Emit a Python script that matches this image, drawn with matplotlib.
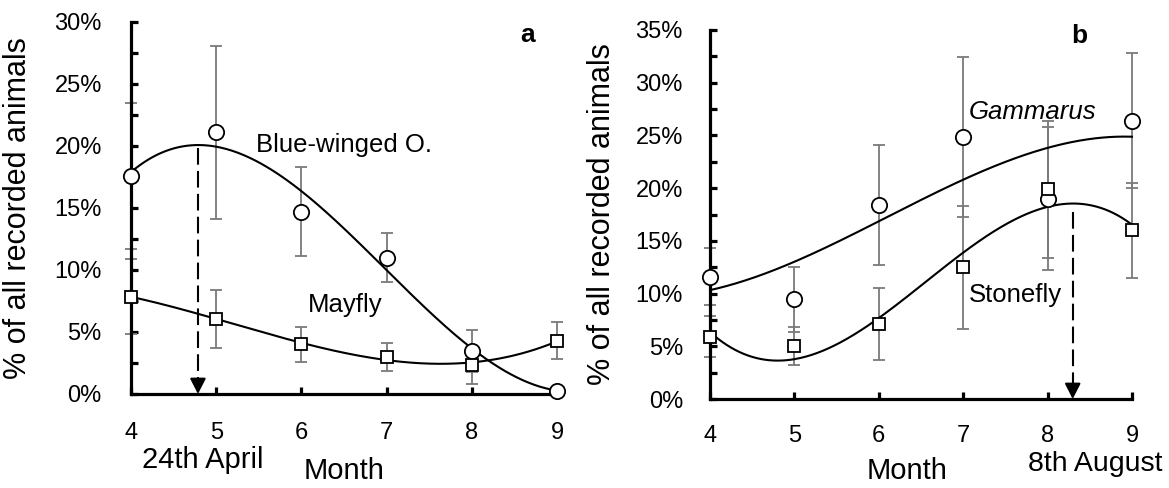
import numpy as np
import matplotlib
matplotlib.use("Agg")
import matplotlib.pyplot as plt
from matplotlib.ticker import MultipleLocator, PercentFormatter

plt.rcParams['font.family'] = ['Liberation Sans', 'DejaVu Sans']

months = [4, 5, 6, 7, 8, 9]

# panel a: Blue-winged Olive and Mayfly (% of all recorded animals)
bwo = [17.6, 21.1, 14.7, 11.0, 3.5, 0.25]
bwo_err = [5.9, 6.95, 3.6, 2.0, 1.7, 0.0]
mayfly = [7.85, 6.05, 4.0, 3.0, 2.35, 4.3]
mayfly_err = [3.0, 2.3, 1.4, 1.15, 1.55, 1.5]

# panel b: Gammarus and Stonefly
gammarus = [11.6, 9.45, 18.4, 24.85, 19.0, 26.4]
gammarus_err = [2.7, 3.1, 5.7, 7.55, 6.8, 6.4]
stonefly = [5.9, 5.05, 7.1, 12.5, 19.9, 16.0]
stonefly_err = [1.95, 1.8, 3.4, 5.85, 6.5, 4.5]

ERR_COLOR = '#7a7a7a'
TICK_FS = 17
NOTE_FS = 18.5
BIG_FS = 21


def trend(ax, y):
    # 3rd order polynomial trendline, like the spreadsheet one
    coef = np.polyfit(months, y, 3)
    xs = np.linspace(4, 9, 300)
    ys = np.polyval(coef, xs)
    ax.plot(xs, ys, color='black', lw=1.5, zorder=3, clip_on=False)
    return xs, ys


def series(ax, y, err, marker, ms):
    ax.errorbar(months, y, yerr=err, fmt='none', ecolor=ERR_COLOR, elinewidth=1.3,
                capsize=4, capthick=1.3, zorder=2, clip_on=False)
    ax.plot(months, y, linestyle='none', marker=marker, ms=ms, mfc='white', mec='black',
            mew=1.3, zorder=4, clip_on=False)


def style_axes(ax, ymax, ypad, xpad):
    ax.set_xlim(4, 9)
    ax.set_ylim(0, ymax)
    for s in ['top', 'right']:
        ax.spines[s].set_visible(False)
    for s in ['left', 'bottom']:
        ax.spines[s].set_linewidth(2.3)
    ax.yaxis.set_major_locator(MultipleLocator(5))
    ax.yaxis.set_minor_locator(MultipleLocator(2.5))
    ax.yaxis.set_major_formatter(PercentFormatter(decimals=0))
    ax.set_xticks(months)
    ax.tick_params(axis='both', which='both', direction='in', length=5, width=2.3,
                   labelsize=TICK_FS)
    ax.tick_params(axis='y', pad=ypad)
    ax.tick_params(axis='x', pad=xpad)
    ax.set_ylabel('% of all recorded animals', fontsize=22)


def peak_arrow(ax, xs, ys, ystart):
    xp = xs[np.argmax(ys)]
    ax.plot([xp, xp], [ystart, 1.2], color='black', lw=1.5, dashes=(8, 3), zorder=3)
    ax.annotate('', xy=(xp, 0), xytext=(xp, 1.3),
                arrowprops=dict(arrowstyle='-|>,head_length=0.47,head_width=0.24',
                                mutation_scale=20, color='black', lw=1.5,
                                shrinkA=0, shrinkB=0),
                zorder=5, annotation_clip=False)


fig = plt.figure(figsize=(11.69, 4.88), dpi=100)
ax1 = fig.add_axes([131 / 1169, 1 - 394 / 488, 426 / 1169, 372 / 488])
ax2 = fig.add_axes([710 / 1169, 1 - 399 / 488, 422 / 1169, 369 / 488])

# panel a
style_axes(ax1, 30, 21, 20.5)
xs, ys = trend(ax1, bwo)
peak_arrow(ax1, xs, ys, ys.max() - 0.2)
trend(ax1, mayfly)
series(ax1, bwo, bwo_err, 'o', 11)
series(ax1, mayfly, mayfly_err, 's', 9)
ax1.text(5.47, 19.5, 'Blue-winged O.', fontsize=NOTE_FS, va='baseline')
ax1.text(6.08, 6.6, 'Mayfly', fontsize=NOTE_FS, va='baseline')
ax1.text(8.57, 28.4, 'a', fontsize=19, fontweight='bold', va='baseline')
ax1.yaxis.set_label_coords(-0.23, 0.5)

# panel b
style_axes(ax2, 35, 19.5, 19)
trend(ax2, gammarus)
xs, ys = trend(ax2, stonefly)
peak_arrow(ax2, xs, ys, 17.7)
series(ax2, gammarus, gammarus_err, 'o', 11)
series(ax2, stonefly, stonefly_err, 's', 9)
ax2.text(7.07, 26.6, 'Gammarus', fontsize=NOTE_FS, fontstyle='italic', va='baseline')
ax2.text(7.07, 9.2, 'Stonefly', fontsize=NOTE_FS, va='baseline')
ax2.text(8.28, 33.8, 'b', fontsize=19, fontweight='bold', va='baseline')
ax2.yaxis.set_label_coords(-0.22, 0.5)

fig.text(142 / 1169, 1 - 468 / 488, '24th April', fontsize=BIG_FS, va='baseline', ha='left')
fig.text(344 / 1169, 1 - 479 / 488, 'Month', fontsize=BIG_FS, va='baseline', ha='center')
fig.text(907 / 1169, 1 - 479 / 488, 'Month', fontsize=BIG_FS, va='baseline', ha='center')
fig.text(1163 / 1169, 1 - 471 / 488, '8th August', fontsize=20.5, va='baseline', ha='right')

fig.savefig('out.png', dpi=100)
